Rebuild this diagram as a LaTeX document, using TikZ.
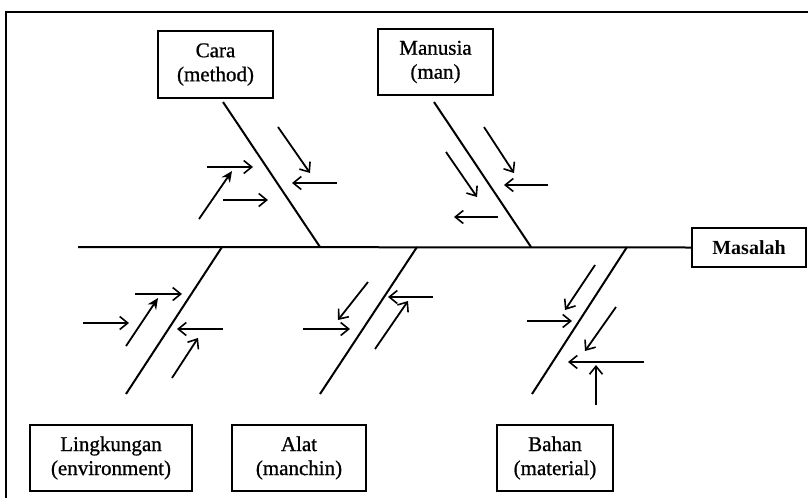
\documentclass[tikz,border=0pt]{standalone}
\usepackage{fontspec}
\setmainfont{Liberation Serif}
\newfontfamily\boxfont{Liberation Serif}[FakeBold=0.8]
\usetikzlibrary{arrows.meta}
\begin{document}
\begin{tikzpicture}[x=1pt,y=-1pt,
  box/.style={draw, line width=1.8pt, align=center, inner sep=0pt,
    font=\boxfont\fontsize{21}{24}\selectfont},
  bone/.style={line width=2pt},
  arr/.style={line width=1.8pt, -{Straight Barb[length=8pt,width=13pt,line width=1.6pt]}},
  farr/.style={line width=1.8pt, -{Stealth[length=11pt,width=10pt]}}]
\useasboundingbox (0,0) rectangle (808,498);
% frame
\draw[line width=1.6pt] (6,498) -- (6,12) -- (808,12);
% boxes
\node[box, minimum width=115pt, minimum height=67pt] (cara) at (215.5,64.5) {Cara\\(method)};
\node[box, minimum width=115pt, minimum height=66pt] (man) at (435.5,62) {Manusia\\(man)};
\node[box, minimum width=162pt, minimum height=66pt] (env) at (111,458) {Lingkungan\\(environment)};
\node[box, minimum width=134pt, minimum height=66pt] (alat) at (299,458) {Alat\\(manchin)};
\node[box, minimum width=116pt, minimum height=66pt] (bahan) at (555,458) {Bahan\\(material)};
\node[box, minimum width=114pt, minimum height=39pt, font=\fontsize{20}{24}\selectfont\bfseries] (mas) at (749,247.5) {Masalah};
% spine
\coordinate (s0) at (78,247);
\draw[bone] (s0) -- (mas.west);
% bones
\coordinate (c1) at (223,102); \coordinate (c2) at (320,247);
\coordinate (m1) at (434,102); \coordinate (m2) at (531,247);
\coordinate (e1) at (222,247); \coordinate (e2) at (126,394);
\coordinate (a1) at (417,247); \coordinate (a2) at (320,394);
\coordinate (b1) at (627,247); \coordinate (b2) at (532,394);
\draw[bone] (c1) -- (c2);
\draw[bone] (m1) -- (m2);
\draw[bone] (e1) -- (e2);
\draw[bone] (a1) -- (a2);
\draw[bone] (b1) -- (b2);
% Cara arrows
\draw[arr] (278,127) -- (310,173);
\draw[arr] (337,183) -- (292,183);
\draw[arr] (207,167) -- (253,167);
\draw[farr] (199,219) -- (232,171);
\draw[arr] (223,200) -- (268,200);
% Manusia arrows
\draw[arr] (484,127) -- (514,173);
\draw[arr] (548,185) -- (504,185);
\draw[arr] (446,152) -- (477,197);
\draw[arr] (498,217) -- (454,217);
% Lingkungan arrows
\draw[arr] (135,294) -- (182,294);
\draw[arr] (83,323) -- (129,323);
\draw[farr] (126,346) -- (158,298);
\draw[arr] (223,329) -- (177,329);
\draw[arr] (172,378) -- (198,338);
% Alat arrows
\draw[arr] (368,282) -- (338,320);
\draw[arr] (303,329) -- (350,329);
\draw[arr] (433,297) -- (388,297);
\draw[arr] (375,349) -- (408,301);
% Bahan arrows
\draw[arr] (595,265) -- (565,310);
\draw[arr] (527,321) -- (572,321);
\draw[arr] (616,307) -- (585,351);
\draw[arr] (644,362) -- (568,362);
\draw[arr] (596,405) -- (596,365);
\end{tikzpicture}
\end{document}
